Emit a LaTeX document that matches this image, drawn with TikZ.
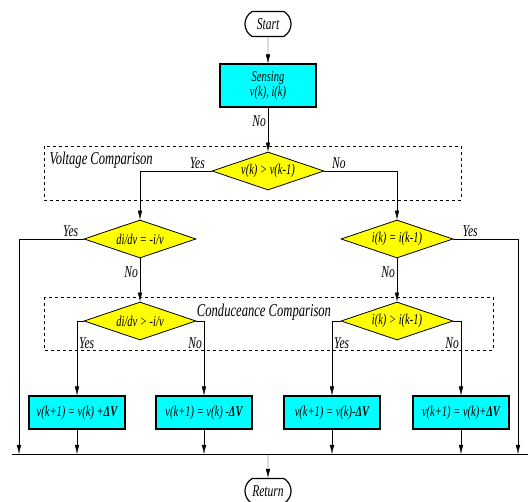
\documentclass[tikz,border=0pt]{standalone}
\usepackage{fontspec}
\setmainfont{Liberation Serif}[FakeStretch=0.7,ItalicFont=Liberation Serif Italic,BoldItalicFont=Liberation Serif Bold Italic]
\usetikzlibrary{arrows.meta,shapes.geometric,shapes.misc}
\definecolor{boxcyan}{RGB}{0,255,255}
\definecolor{testyellow}{RGB}{255,255,0}

\begin{document}
\begin{tikzpicture}[x=1pt,y=-1pt,
  >={Latex[length=9pt,width=4.5pt]},
  every node/.style={font=\rmfamily\itshape\fontsize{15}{16}\selectfont},
  term/.style={draw,line width=1.2pt,rounded rectangle,rounded rectangle arc length=120,minimum width=50pt,minimum height=25pt,inner sep=0pt},
  act/.style={draw,line width=2pt,fill=boxcyan,minimum width=96pt,minimum height=33pt,inner sep=0pt,align=center},
  test/.style={draw,line width=0.8pt,fill=testyellow,diamond,aspect=3,minimum width=112pt,minimum height=38pt,inner sep=0pt},
  group/.style={draw,dashed,line width=0.6pt},
  lbl/.style={font=\rmfamily\itshape\fontsize{16.5}{18}\selectfont,inner sep=2pt},
  title/.style={font=\rmfamily\itshape\fontsize{18}{20}\selectfont}]
\useasboundingbox (0,0) rectangle (528,502);
\draw[group] (44,146) rectangle (461,200);
\draw[group] (44,297) rectangle (493,350);
\node[title,anchor=west] (Vt) at (46,160) {Voltage Comparison};
\node[title] (Ct) at (264,312) {Conduceance Comparison};
\node[term,lbl] (St) at (268,24) {Start};
\node[act,minimum height=43pt] (Se) at (268,86) {Sensing\\[-1pt] v(k), i(k)};
\node[test] (Dv) at (268,171) {v(k) > v(k-1)};
\node[test] (Dl) at (140,239) {di/dv = -i/v};
\node[test] (Dr) at (397,239) {i(k) = i(k-1)};
\node[test] (Cl) at (140,321) {di/dv > -i/v};
\node[test] (Cr) at (397,321) {i(k) > i(k-1)};
\node[act] (Ua) at (77,413) {v(k+1) = v(k) +\textbf{ΔV}};
\node[act] (Ub) at (204,413) {v(k+1) = v(k) -\textbf{ΔV}};
\node[act] (Uc) at (332,413) {v(k+1) = v(k)-\textbf{ΔV}};
\node[act] (Ud) at (461,413) {v(k+1) = v(k)+\textbf{ΔV}};
\node[term,lbl] (Re) at (268,491) {Return};
\coordinate (Bl) at (12,454);
\coordinate (Br) at (528,454);
\coordinate (Bm) at (268,454);
\coordinate (Ya) at (19,454);
\coordinate (Yb) at (518,454);
\draw (Bl) -- (Br);
\draw[->] (St) -- (Se);
\draw[->] (Se) -- node[lbl,left,pos=0.3] {No} (Dv);
\draw[->] (Dv.west) -| (Dl.north) node[lbl,pos=0.1,above] {Yes};
\draw[->] (Dv.east) -| (Dr.north) node[lbl,pos=0.1,above] {No};
\draw[->] (Dl.west) -| (Ya) node[lbl,pos=0.1,above] {Yes};
\draw[->] (Dr.east) -| (Yb) node[lbl,pos=0.13,above] {Yes};
\draw[->] (Dl) -- node[lbl,left,pos=0.32] {No} (Cl);
\draw[->] (Dr) -- node[lbl,left,pos=0.32] {No} (Cr);
\draw[->] (Cl.west) -| (Ua.north) node[lbl,pos=0.65,right] {Yes};
\draw[->] (Cl.east) -| (Ub.north) node[lbl,pos=0.65,left] {No};
\draw[->] (Cr.west) -| (Uc.north) node[lbl,pos=0.65,right] {Yes};
\draw[->] (Cr.east) -| (Ud.north) node[lbl,pos=0.65,left] {No};
\foreach \u in {Ua,Ub,Uc,Ud}
  \draw[->] (\u) -- (\u |- Bm);
\draw[->] (Bm) -- (Re);
\end{tikzpicture}
\end{document}
